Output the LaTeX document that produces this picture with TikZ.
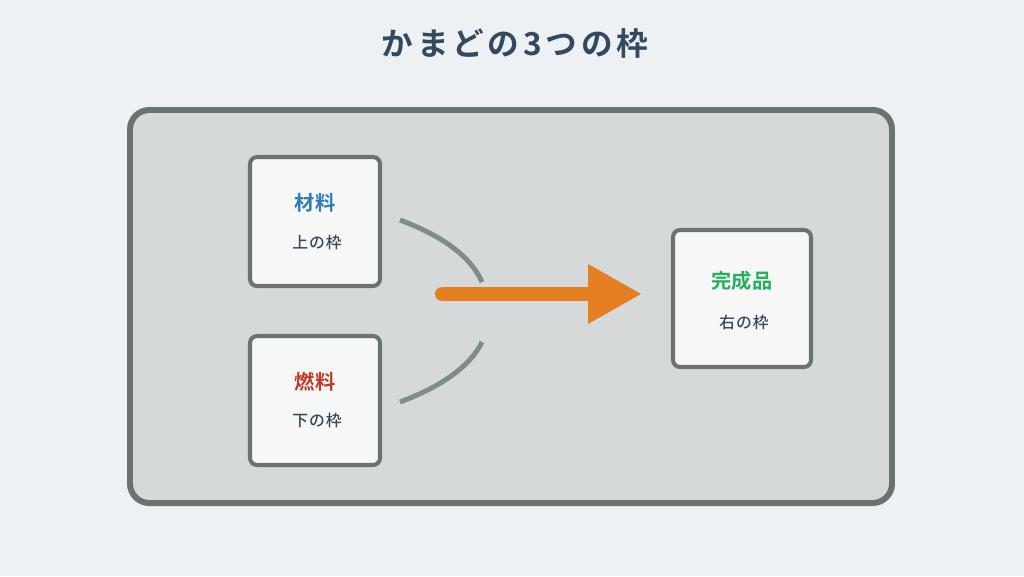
\documentclass[tikz,border=0pt]{standalone}
\usepackage{fontspec}
\newfontfamily\cjkm{Noto Sans CJK JP Medium}[LetterSpace=6]
\newfontfamily\cjkb{Noto Sans CJK JP Bold}
\newfontfamily\cjkt{Noto Sans CJK JP Bold}[LetterSpace=12]
\definecolor{bg}{HTML}{EDF1F4}
\definecolor{panel}{HTML}{D5D9DA}
\definecolor{edge}{HTML}{6B7272}
\definecolor{arc}{HTML}{7F8C8A}
\definecolor{org}{HTML}{E67E22}
\definecolor{txt}{HTML}{34495E}
\definecolor{blu}{HTML}{2E7DBA}
\definecolor{rd}{HTML}{C0392B}
\definecolor{gr}{HTML}{27AE60}
\begin{document}
\begin{tikzpicture}[x=0.02cm,y=-0.02cm,
  box/.style={draw=edge,line width=2.3pt,fill=white!97!black,rounded corners=4pt},
  big/.style={font=\cjkb\fontsize{11.5}{13}\selectfont},
  small/.style={font=\cjkm\fontsize{9}{10}\selectfont,text=txt}]
\fill[bg] (0,0) rectangle (1024,576);
\useasboundingbox (0,0) rectangle (1024,576);
\node[font=\cjkt\fontsize{18}{20}\selectfont,text=txt] (title) at (515,43) {かまどの3つの枠};
\draw[draw=edge,line width=3.4pt,fill=panel,rounded corners=11pt] (130,110) rectangle (892,503);
\draw[box] (250,157) rectangle (380,286);
\draw[box] (250,336) rectangle (380,465);
\draw[box] (673,230) rectangle (811,367);
\node[big,text=blu] (a) at (315,203) {材料};
\node[small] (a2) at (317,242) {上の枠};
\node[big,text=rd] (b) at (315,382) {燃料};
\node[small] (b2) at (317,420) {下の枠};
\node[big,text=gr] (c) at (742,281) {完成品};
\node[small] (c2) at (744,322) {右の枠};
\draw[arc,line width=2.8pt] (400,220) .. controls (440,235) and (470,255) .. (482,282);
\draw[arc,line width=2.8pt] (400,402) .. controls (440,387) and (470,367) .. (482,342);
\draw[org,line width=8pt,line cap=round] (442,294) -- (592,294);
\fill[org] (588,264) -- (641,294) -- (588,324) -- cycle;
\end{tikzpicture}
\end{document}
